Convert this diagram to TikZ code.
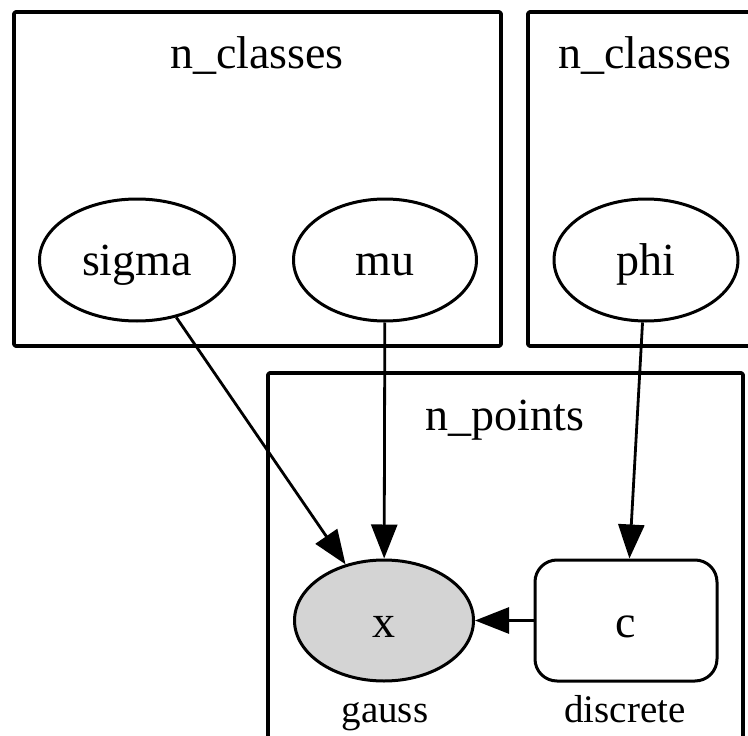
\documentclass[tikz,border=0pt]{standalone}
\usepackage{fontspec}
\setmainfont{Liberation Serif}
\usetikzlibrary{shapes.geometric,arrows.meta}
\begin{document}
\begin{tikzpicture}[x=1pt,y=-1pt,
  every node/.style={font=\fontsize{46}{55}\selectfont},
  plate/.style={draw,line width=3.6pt,line join=round,rounded corners=1.5pt},
  rv/.style={draw,ellipse,line width=3pt,inner sep=0pt},
  ctr/.style={draw,rectangle,rounded corners=22pt,line width=3pt,inner sep=0pt,minimum width=182pt,minimum height=121pt},
  small/.style={font=\fontsize{39}{46}\selectfont,anchor=base},
  ttl/.style={anchor=base},
  edge/.style={line width=2.8pt,-{Triangle[length=34pt,width=26pt]}}]
\useasboundingbox (0,0) rectangle (748,736);
\clip (0,0) rectangle (748,736);
% plates
\draw[plate] (14,12) rectangle (501,346);
\draw[plate] (528,12) rectangle (770,346);
\draw[plate] (268,373) rectangle (743,770);
\node[ttl] (t1) at (257,68) {n\_classes};
\node[ttl] (t2) at (645,68) {n\_classes};
\node[ttl] (t3) at (505,430) {n\_points};
% nodes
\node[rv,minimum width=195pt,minimum height=122pt] (sigma) at (137,260) {};
\node[anchor=base] at (137,275) {sigma};
\node[rv,minimum width=183pt,minimum height=122pt] (mu) at (385,260) {};
\node[anchor=base] at (385,275) {mu};
\node[rv,minimum width=184pt,minimum height=122pt] (phi) at (646,260) {};
\node[anchor=base] at (646,275) {phi};
\node[rv,fill=black!17,minimum width=179pt,minimum height=121pt] (x) at (384,620.5) {};
\node[anchor=base] at (384,637) {x};
\node[ctr] (c) at (626,620.5) {};
\node[anchor=base] at (626,637) {c};
\node[small] (gl) at (385,722) {gauss};
\node[small] (dl) at (625,722) {discrete};
% edges
\draw[edge] (sigma) -- (x);
\draw[edge] (mu) -- (x);
\draw[edge] (phi) -- (c);
\draw[edge] (c) -- (x);
\end{tikzpicture}
\end{document}
